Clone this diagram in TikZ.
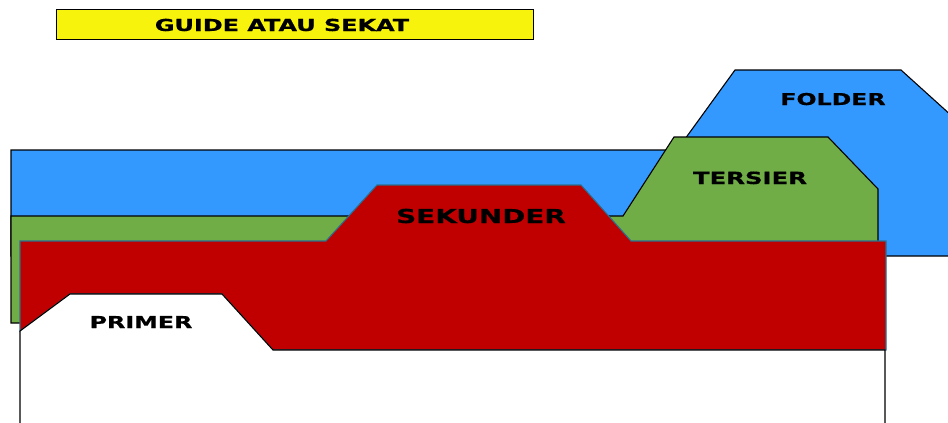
\documentclass[tikz,border=0pt]{standalone}
\usepackage{fontspec}
\setmainfont{DejaVu Sans}
\newfontfamily\labfont[FakeStretch=1.45,FakeBold=0.6]{DejaVu Sans Bold}
\definecolor{fblue}{HTML}{3399FF}
\definecolor{fgreen}{HTML}{70AD47}
\definecolor{fred}{HTML}{C00000}
\definecolor{fteal}{HTML}{2A6F8F}
\definecolor{fyellow}{HTML}{F7F30C}
\tikzset{
  shape line/.style={line width=1.1pt, line join=miter},
  lab/.style={anchor=base, inner sep=0pt, font=\labfont},
}
\begin{document}
\begin{tikzpicture}[x=1pt,y=-1pt]
\useasboundingbox (0,0) rectangle (948,423);
\clip (0,0) rectangle (948,423);
% folder (blue)
\filldraw[shape line, fill=fblue, draw=black]
  (11,150) -- (677,150) -- (735,70) -- (901,70) -- (953,117) -- (953,256) -- (11,256) -- cycle;
% tersier (green)
\filldraw[shape line, fill=fgreen, draw=black]
  (11,216) -- (623,216) -- (674,137) -- (828,137) -- (878,189) -- (878,323) -- (11,323) -- cycle;
% sekunder (red)
\filldraw[shape line, fill=fred, draw=fteal]
  (20,241) -- (326,241) -- (377,185) -- (581,185) -- (631,241) -- (886,241) -- (886,350)
  -- (273,350) -- (222,294) -- (70,294) -- (20,331) -- cycle;
% primer (white)
\fill[white] (20,430) -- (20,331) -- (70,294) -- (222,294) -- (273,350) -- (885,350) -- (885,430) -- cycle;
\draw[shape line, black] (20,430) -- (20,331) -- (70,294) -- (222,294) -- (273,350) -- (885,350) -- (885,430);
% title
\node[draw=black, fill=fyellow, line width=0.9pt, minimum width=477pt, minimum height=30pt, inner sep=0pt, anchor=north west] (title) at (56,9) {};
\node[lab, font=\labfont\fontsize{16.5}{18}\selectfont] (titletext) at (282,31) {GUIDE ATAU SEKAT};
% labels
\node[lab, font=\labfont\fontsize{16.3}{18}\selectfont] (folder) at (833,105) {FOLDER};
\node[lab, font=\labfont\fontsize{16.8}{18}\selectfont] (tersier) at (750,184) {TERSIER};
\node[lab, font=\labfont\fontsize{19.2}{20}\selectfont] (sekunder) at (481,223) {SEKUNDER};
\node[lab, font=\labfont\fontsize{16.4}{18}\selectfont] (primer) at (141,328) {PRIMER};
\end{tikzpicture}
\end{document}
